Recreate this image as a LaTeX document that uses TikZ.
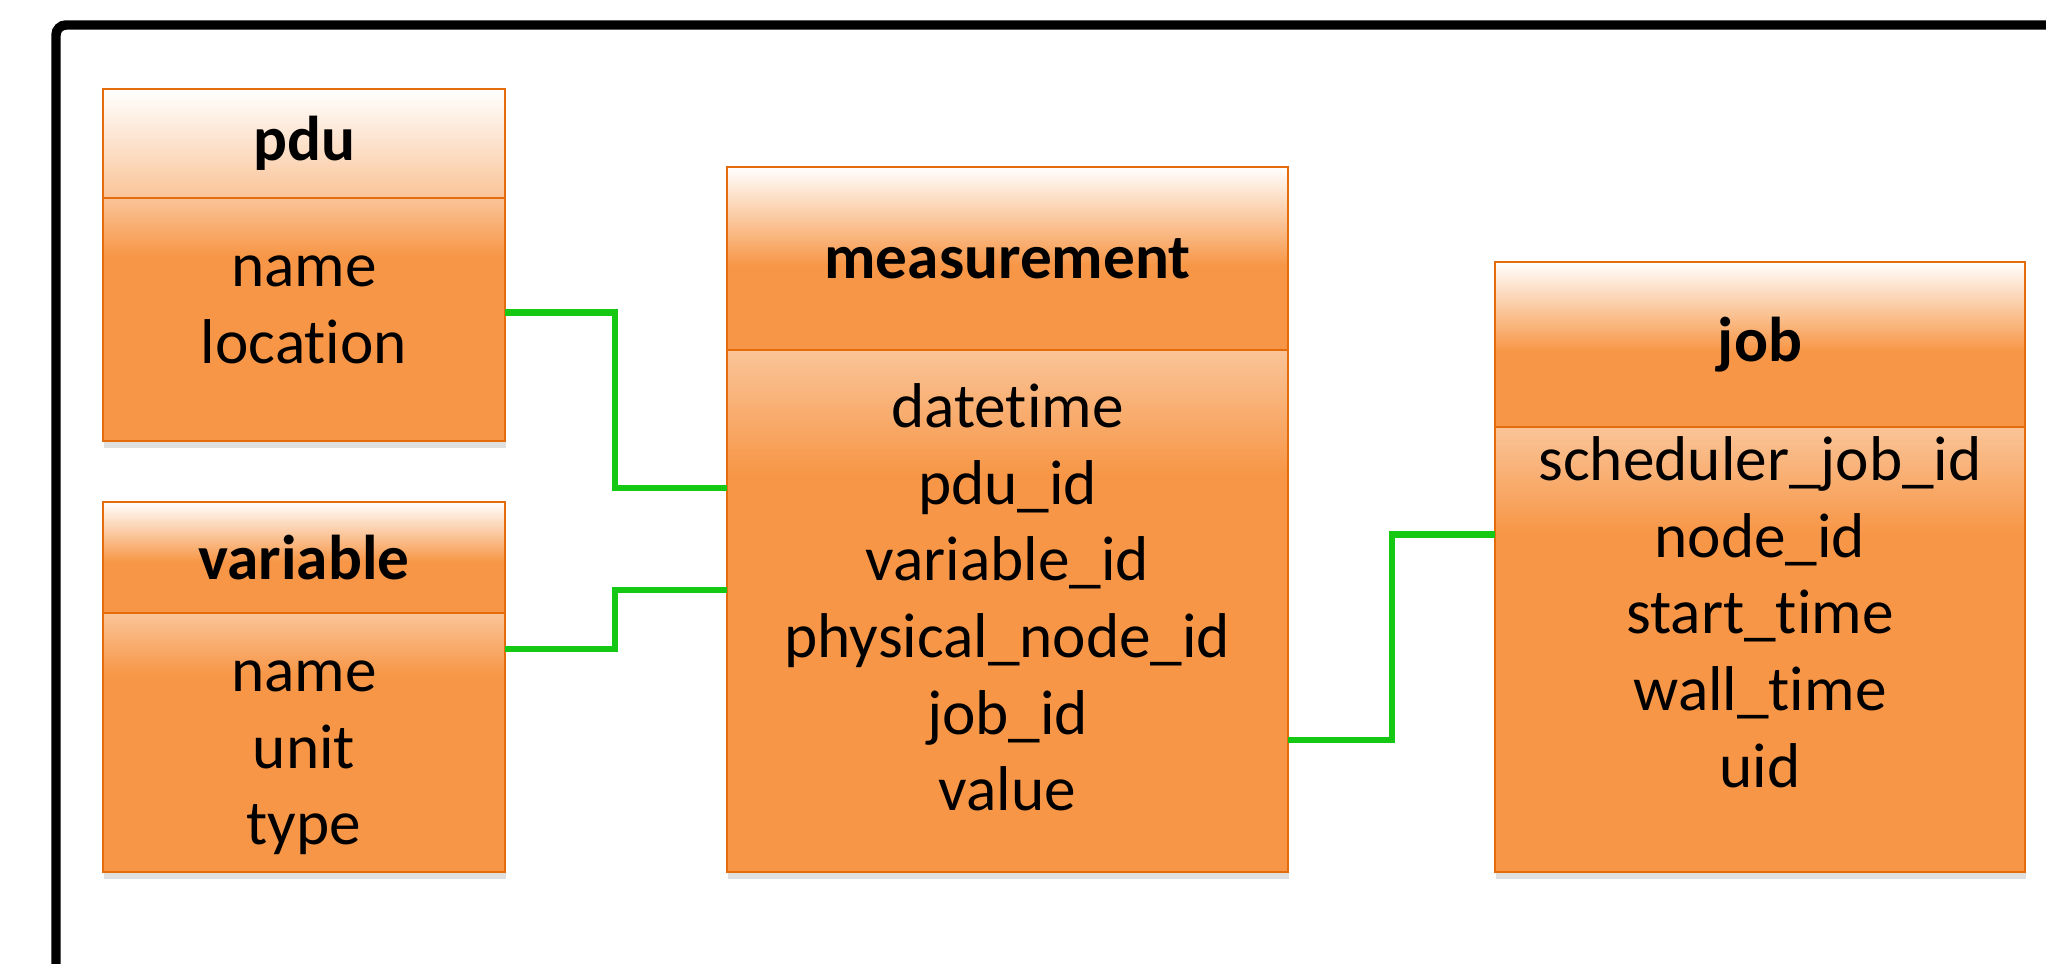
\documentclass[tikz,border=0pt]{standalone}
\usepackage{fontspec}
\setmainfont{Carlito}[Ligatures={NoCommon}]
\usetikzlibrary{positioning,shadows}

\definecolor{tblorange}{RGB}{247,150,70}
\definecolor{tblpeach}{RGB}{250,196,152}
\definecolor{tblline}{RGB}{228,108,10}
\definecolor{linkgreen}{RGB}{20,200,20}

% 0bp = bottom, 100bp = top; the path covers 25bp..75bp
\pgfdeclareverticalshading{headfade}{100bp}{color(0bp)=(tblorange); color(48bp)=(tblorange); color(75bp)=(white); color(100bp)=(white)}
\pgfdeclareverticalshading{paleheadfade}{100bp}{color(0bp)=(tblpeach); color(25bp)=(tblpeach); color(75bp)=(white); color(100bp)=(white)}
\pgfdeclareverticalshading{bodyfade}{100bp}{color(0bp)=(tblorange); color(63bp)=(tblorange); color(75bp)=(tblpeach); color(100bp)=(tblpeach)}

\begin{document}
\begin{tikzpicture}[
    tblhead/.style={
        rectangle,
        draw=tblline, line width=0.8pt,
        shade, shading=headfade,
        inner sep=0pt, outer sep=0pt,
        font=\bfseries\fontsize{18}{22}\selectfont
        },
    tblbody/.style={
        rectangle,
        draw=tblline, line width=0.8pt,
        shade, shading=bodyfade,
        inner sep=0pt, outer sep=0pt,
        drop shadow={shadow xshift=0.4pt, shadow yshift=-2pt, opacity=0.25}
        },
    fields/.style={
        align=center,
        inner sep=0pt,
        font=\fontsize{18}{21.8}\selectfont},
    link/.style={draw=linkgreen, line width=1.8pt},
    frame/.style={draw=black, line width=2.7pt, rounded corners=0.1cm}]

    \useasboundingbox (0,0) rectangle (20.46,9.63);
    \draw[frame] (0.56,-0.5) |- (21,9.38);

    \node (pdu) [tblhead, shading=paleheadfade, minimum width=4.02cm, minimum height=1.09cm, anchor=north west] at (1.03,8.74) {pdu};
    \node (pdu_body) [tblbody, minimum width=4.02cm, minimum height=2.43cm, below=0cm of pdu] {};
    \node (pdu_fields) [fields, below=0.57cm of pdu_body.north] {name\\location};

    \node (var) [tblhead, minimum width=4.02cm, minimum height=1.11cm, below=0.61cm of pdu_body] {variable};
    \node (var_body) [tblbody, minimum width=4.02cm, minimum height=2.59cm, below=0cm of var] {};
    \node (var_fields) [fields, below=0.47cm of var_body.north] {name\\unit\\type};

    \node (meas) [tblhead, minimum width=5.61cm, minimum height=1.83cm, anchor=north west] at (7.27,7.96) {measurement};
    \node (meas_body) [tblbody, minimum width=5.61cm, minimum height=5.22cm, below=0cm of meas] {};
    \node (meas_fields) [fields, below=0.33cm of meas_body.north] {datetime\\pdu\_id\\variable\_id\\physical\_node\_id\\job\_id\\value};

    \node (job) [tblhead, minimum width=5.30cm, minimum height=1.65cm, anchor=north west] at (14.95,7.01) {job};
    \node (job_body) [tblbody, minimum width=5.30cm, minimum height=4.45cm, below=0cm of job] {};
    \node (job_fields) [fields, below=0.09cm of job_body.north] {scheduler\_job\_id\\node\_id\\start\_time\\wall\_time\\uid};

    \draw[link] ([yshift=0.07cm]pdu_body.east) -- ++(1.1,0) |- ([yshift=1.23cm]meas_body.west);
    \draw[link] ([yshift=0.935cm]var_body.east) -- ++(1.1,0) |- ([yshift=0.21cm]meas_body.west);
    \draw[link] ([yshift=-1.29cm]meas_body.east) -- ++(1.04,0) |- ([yshift=1.15cm]job_body.west);
\end{tikzpicture}
\end{document}
